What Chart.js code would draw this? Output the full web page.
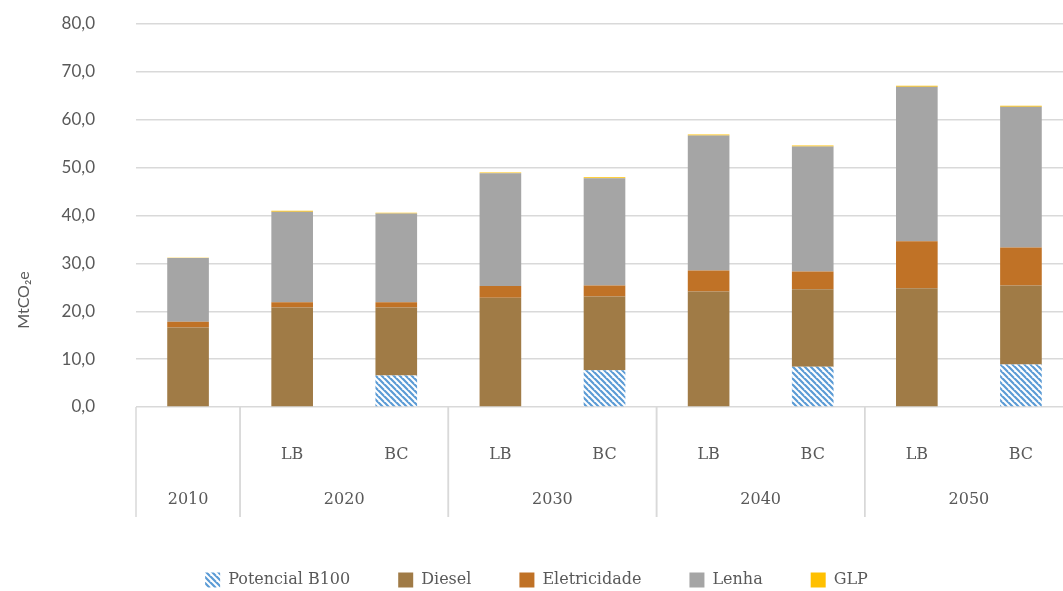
<!DOCTYPE html>
<html>
<head>
<meta charset="utf-8">
<script src="https://cdn.jsdelivr.net/npm/chart.js@4"></script>
<style>
  html, body { margin: 0; padding: 0; background: #fff; overflow: hidden; }
  #wrap { width: 1073px; height: 591px; }
</style>
</head>
<body>
<div id="wrap"><canvas id="chart"></canvas></div>
<script>
const subLabels = ['', 'LB', 'BC', 'LB', 'BC', 'LB', 'BC', 'LB', 'BC'];
const groupLabels = ['2010', '2020', '2030', '2040', '2050'];
const groupSizes = [1, 2, 2, 2, 2];

const b100 = [0, 0, 6.6, 0, 7.7, 0, 8.4, 0, 8.9];
const diesel = [16.6, 20.8, 14.2, 22.8, 15.4, 24.1, 16.2, 24.8, 16.5];
const eletricidade = [1.2, 1.1, 1.1, 2.5, 2.3, 4.4, 3.7, 9.8, 7.9];
const lenha = [13.3, 18.9, 18.5, 23.5, 22.4, 28.2, 26.1, 32.3, 29.4];
const glp = [0.1, 0.2, 0.2, 0.2, 0.2, 0.2, 0.2, 0.2, 0.2];

const yTicks = [0, 10, 20, 30, 40, 50, 60, 70, 80];

const textColor = '#595959';
const gridColor = '#D9D9D9';

// diagonal stripes for Potencial B100
function stripes() {
  const c = document.createElement('canvas');
  c.width = 6; c.height = 6;
  const g = c.getContext('2d');
  g.fillStyle = '#fff';
  g.fillRect(0, 0, 6, 6);
  g.strokeStyle = '#5B9BD5';
  g.lineWidth = 2.2;
  g.beginPath();
  g.moveTo(-3, -3); g.lineTo(9, 9);
  g.moveTo(-6, 0); g.lineTo(0, 6);
  g.moveTo(0, -6); g.lineTo(12, 6);
  g.stroke();
  return g.createPattern(c, 'repeat');
}

const groupAxis = {
  id: 'groupAxis',
  beforeLayout(chart) {
    const lg = chart.legend;
    if (lg && !lg._patched) {
      const fit = lg.fit;
      lg.fit = function () { fit.call(this); this.height = 67; };
      lg._patched = true;
    }
  },
  afterDraw(chart) {
    const ctx = chart.ctx;
    const x = chart.scales.x;
    const bottom = chart.chartArea.bottom;
    const half = (x.getPixelForValue(1) - x.getPixelForValue(0)) / 2;
    ctx.save();
    ctx.strokeStyle = gridColor;
    ctx.lineWidth = 1.5;
    ctx.fillStyle = textColor;
    ctx.font = '16px "DejaVu Serif"';
    ctx.textAlign = 'center';
    ctx.textBaseline = 'middle';
    let idx = 0;
    groupLabels.forEach((lab, i) => {
      const left = x.getPixelForValue(idx) - half;
      const right = x.getPixelForValue(idx + groupSizes[i] - 1) + half;
      ctx.beginPath();
      ctx.moveTo(left, bottom);
      ctx.lineTo(left, bottom + 110);
      ctx.moveTo(right, bottom);
      ctx.lineTo(right, bottom + 110);
      ctx.stroke();
      ctx.fillText(lab, (left + right) / 2, bottom + 93);
      idx += groupSizes[i];
    });
    // y axis title
    ctx.translate(24, 300);
    ctx.rotate(-Math.PI / 2);
    ctx.font = '16px Lato';
    ctx.fillText('MtCO\u2082e', 0, 0);
    ctx.restore();
  }
};

const pattern = stripes();

new Chart(document.getElementById('chart'), {
  type: 'bar',
  data: {
    labels: subLabels,
    datasets: [
      { label: 'Potencial B100', data: b100, backgroundColor: pattern },
      { label: 'Diesel', data: diesel, backgroundColor: '#A07B46' },
      { label: 'Eletricidade', data: eletricidade, backgroundColor: '#C07226' },
      { label: 'Lenha', data: lenha, backgroundColor: '#A5A5A5' },
      { label: 'GLP', data: glp, backgroundColor: '#FFC000' }
    ]
  },
  options: {
    responsive: true,
    maintainAspectRatio: false,
    animation: false,
    layout: { padding: { top: 24, right: 0, left: 0, bottom: 0 } },
    datasets: { bar: { barPercentage: 0.4, categoryPercentage: 1 } },
    scales: {
      x: {
        stacked: true,
        grid: { display: false },
        border: { display: false },
        ticks: { color: textColor, font: { family: 'DejaVu Serif', size: 16 }, padding: 30, maxRotation: 0 },
        afterFit(scale) { scale.height = 117; }
      },
      y: {
        stacked: true,
        min: 0,
        max: 80,
        afterBuildTicks(scale) { scale.ticks = yTicks.map(v => ({ value: v })); },
        grid: { color: gridColor, lineWidth: 1.5, drawTicks: false },
        border: { display: false },
        ticks: {
          color: textColor,
          font: { family: 'Lato', size: 17 },
          padding: 41,
          callback: v => v.toFixed(1).replace('.', ',')
        },
        afterFit(scale) {
          scale.width = 136;
          scale.paddingTop = 10;
          scale.paddingBottom = 10;
        }
      }
    },
    plugins: {
      tooltip: { enabled: false },
      legend: {
        position: 'bottom',
        labels: {
          color: textColor,
          font: { family: 'DejaVu Serif', size: 16 },
          boxWidth: 15,
          boxHeight: 15,
          padding: 48
        }
      }
    }
  },
  plugins: [groupAxis]
});
</script>
</body>
</html>
